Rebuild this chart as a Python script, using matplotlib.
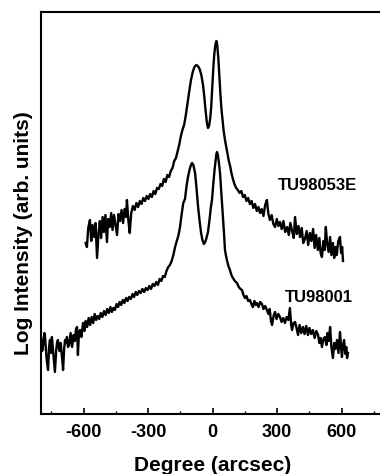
import matplotlib
matplotlib.use("Agg")
import matplotlib.pyplot as plt
from matplotlib.ticker import MultipleLocator

plt.rcParams['font.family'] = ['Liberation Sans', 'DejaVu Sans']
plt.rcParams['font.weight'] = 'bold'

# ---------------- Data ----------------
# x: angle in arcsec, y: log intensity (arb. units, offset for display)

x_e = [-590, -584, -578, -570, -564, -558, -550, -544, -537, -530, -524, -518,
       -511, -505, -498, -491, -485, -478, -471, -465, -458, -451, -444, -437,
       -430, -423, -416, -409, -402, -398, -391, -385, -378, -370, -362, -354,
       -346, -338, -330, -322, -314, -306, -298, -290, -282, -274, -266, -258,
       -250, -242, -234, -226, -218, -210, -202, -194, -186, -178, -170, -162,
       -155, -148, -140, -132, -124, -116, -108, -100, -92, -84, -76, -68,
       -60, -52, -44, -38, -32, -26, -21, -16, -11, -6, -2, 3,
       8, 13, 18, 22, 27, 32, 37, 42, 47, 52, 58, 64,
       70, 76, 82, 88, 95, 102, 110, 118, 126, 134, 142, 150,
       158, 166, 174, 182, 190, 198, 206, 214, 221, 229, 237, 245,
       253, 260, 267, 275, 283, 291, 299, 307, 314, 322, 330, 338,
       347, 355, 362, 370, 378, 384, 392, 400, 407, 415, 422, 430,
       438, 445, 453, 460, 468, 475, 482, 490, 497, 503, 509, 516,
       522, 527, 533, 540, 547, 553, 560, 566, 572, 578, 585, 593,
       598, 603, 607]
y_e = [170, 166, 185, 193, 172, 188, 176, 190, 155, 180, 192, 175,
       196, 181, 198, 171, 194, 186, 200, 183, 198, 188, 178, 199,
       192, 203, 190, 204, 196, 213, 192, 180, 200, 207, 203, 210,
       206, 212, 209, 215, 212, 217, 214, 219, 216, 222, 219, 225,
       224, 229, 227, 234, 231, 238, 236, 242, 245, 252, 255, 262,
       268, 276, 283, 288, 298, 310, 322, 333, 341, 346, 348, 347,
       344, 338, 328, 316, 302, 290, 285, 287, 294, 306, 322, 342,
       358, 368, 372, 368, 355, 337, 318, 303, 292, 282, 273, 266,
       259, 252, 247, 240, 234, 229, 225, 223, 220, 222, 216, 218,
       212, 215, 209, 212, 205, 209, 202, 206, 200, 204, 197, 208,
       213, 199, 193, 198, 189, 186, 194, 187, 191, 184, 192, 181,
       186, 178, 190, 182, 175, 196, 179, 187, 176, 185, 170, 174,
       182, 168, 180, 172, 184, 165, 178, 163, 175, 160, 156, 172,
       163, 186, 170, 161, 176, 158, 170, 155, 166, 158, 172, 176,
       160, 166, 152]

x_1 = [-798, -792, -787, -782, -779, -772, -765, -760, -756, -751, -747, -740,
       -733, -727, -723, -719, -712, -706, -700, -695, -690, -686, -681, -677,
       -672, -667, -660, -653, -646, -640, -635, -630, -626, -621, -616, -610,
       -602, -596, -590, -583, -576, -569, -562, -555, -548, -541, -534, -527,
       -520, -512, -505, -497, -490, -482, -475, -468, -461, -454, -446, -439,
       -432, -425, -417, -410, -402, -395, -388, -380, -372, -365, -357, -350,
       -342, -334, -326, -318, -310, -302, -294, -286, -278, -270, -262, -254,
       -246, -238, -230, -222, -214, -206, -198, -190, -182, -174, -166, -158,
       -151, -144, -136, -128, -120, -114, -106, -100, -95, -89, -81, -74,
       -67, -60, -53, -47, -40, -34, -28, -21, -14, -8, -2, 4,
       10, 14, 18, 21, 25, 30, 35, 40, 45, 49, 54, 58,
       63, 67, 74, 81, 88, 95, 104, 114, 122, 130, 137, 144,
       151, 158, 166, 174, 181, 188, 195, 202, 207, 214, 222, 230,
       237, 245, 253, 260, 266, 272, 277, 284, 291, 298, 306, 314,
       321, 329, 337, 345, 353, 360, 366, 370, 377, 384, 391, 398,
       405, 413, 421, 428, 436, 444, 451, 459, 467, 475, 483, 491,
       497, 503, 509, 516, 523, 530, 535, 541, 547, 553, 560, 566,
       572, 579, 586, 593, 598, 602, 607, 612, 618, 622, 626, 630]
y_1 = [76, 62, 70, 80, 76, 55, 43, 66, 73, 60, 76, 58,
       41, 63, 70, 73, 62, 70, 56, 43, 64, 73, 70, 76,
       66, 68, 80, 66, 78, 72, 84, 86, 58, 80, 83, 76,
       90, 82, 92, 86, 95, 88, 96, 90, 99, 93, 97, 94,
       100, 96, 102, 98, 104, 100, 106, 101, 105, 103, 109, 106,
       111, 108, 113, 110, 115, 112, 116, 114, 119, 116, 121, 118,
       122, 120, 124, 121, 125, 123, 127, 124, 129, 127, 131, 128,
       134, 132, 137, 136, 142, 146, 148, 152, 158, 166, 172, 178,
       186, 198, 210, 214, 228, 236, 244, 248, 250, 248, 240, 224,
       206, 192, 180, 173, 169, 171, 175, 181, 193, 205, 214, 230,
       244, 252, 259, 261, 258, 250, 240, 224, 207, 196, 178, 163,
       157, 153, 147, 143, 138, 135, 132, 130, 126, 124, 123, 118,
       115, 117, 112, 113, 109, 106, 112, 108, 110, 106, 111, 109,
       104, 107, 103, 99, 104, 92, 88, 97, 101, 94, 99, 96,
       91, 95, 90, 96, 93, 105, 88, 83, 90, 91, 85, 78,
       88, 80, 86, 79, 87, 78, 85, 79, 83, 75, 82, 78,
       70, 75, 66, 74, 76, 68, 80, 72, 86, 66, 55, 70,
       64, 73, 60, 81, 66, 56, 68, 73, 59, 66, 55, 60]

labels = ['TU98053E', 'TU98001']
label_x = [305, 337]
label_y = [228, 116]

xticks = [-600, -300, 0, 300, 600]

# ---------------- Plot ----------------
fig = plt.figure(figsize=(3.8, 4.74), dpi=100)
ax = fig.add_axes([40.5 / 380, 60 / 474, 344 / 380, 402 / 474])

ax.plot(x_e, y_e, color='black', linewidth=1.7)
ax.plot(x_1, y_1, color='black', linewidth=1.7)

for name, tx, ty in zip(labels, label_x, label_y):
    ax.text(tx, ty, name, fontsize=12, fontweight='bold', va='center', ha='left')

ax.set_xlim(-800, 800)
ax.set_ylim(-1, 401)
ax.set_xticks(xticks)
ax.set_xticklabels([str(t) for t in xticks])
ax.xaxis.set_minor_locator(MultipleLocator(150))
ax.set_yticks([])
ax.tick_params(axis='x', which='major', direction='in', length=4, width=1.2,
               labelsize=13, pad=7)
ax.tick_params(axis='x', which='minor', direction='in', length=2.5, width=1.0)
for lbl in ax.get_xticklabels():
    lbl.set_fontweight('bold')

for s in ax.spines.values():
    s.set_linewidth(1.5)

ax.set_xlabel('Degree (arcsec)', fontsize=15, fontweight='bold')
ax.xaxis.set_label_coords(0.5, -0.105)
ax.set_ylabel('Log Intensity (arb. units)', fontsize=15, fontweight='bold')
ax.yaxis.set_label_coords(-0.022, 0.45)

fig.savefig('out.png', dpi=100)
